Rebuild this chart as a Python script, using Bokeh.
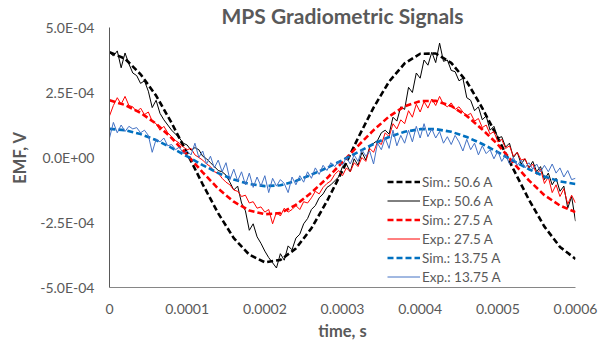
from bokeh.plotting import figure
from bokeh.models import FixedTicker, CustomJSTickFormatter, Legend, LegendItem, Range1d
from bokeh.embed import file_html
from bokeh.resources import INLINE

# ---------------- data (values in units of 1e-4) ----------------
SCALE = 1e-4
t_sim = [i * 2e-5 for i in range(31)]          # 0 .. 0.0006 s, sim sampling
t_exp = [i * 5e-6 for i in range(121)]         # 0 .. 0.0006 s, exp sampling

sim_506 = [4.05, 3.80, 3.20, 2.38, 1.33, 0.16, -1.03, -2.15, -3.10, -3.74, -4.03,
           -3.94, -3.50, -2.72, -1.68, -0.50, 0.75, 1.92, 2.92, 3.62, 3.99,
           4.00, 3.64, 2.92, 1.90, 0.75, -0.45, -1.62, -2.66, -3.44, -3.90]
sim_275 = [2.20, 2.02, 1.72, 1.30, 0.75, 0.10, -0.57, -1.20, -1.70, -2.04, -2.18,
           -2.14, -1.82, -1.35, -0.80, -0.18, 0.45, 1.05, 1.58, 1.97, 2.17,
           2.18, 1.98, 1.60, 1.08, 0.50, -0.20, -0.88, -1.45, -1.85, -2.10]
sim_1375 = [1.10, 1.05, 0.90, 0.67, 0.37, 0.04, -0.29, -0.60, -0.85, -1.02, -1.10,
            -1.07, -0.90, -0.66, -0.40, -0.10, 0.21, 0.52, 0.79, 0.99, 1.09,
            1.09, 0.99, 0.79, 0.52, 0.21, -0.13, -0.45, -0.73, -0.92, -1.02]

exp_506 = [4.05, 3.90, 4.10, 3.45, 4.02, 3.60, 3.25, 3.15, 2.85, 2.95,
           2.55, 1.92, 2.20, 1.70, 1.45, 1.25, 1.05, 0.90, 0.75, 0.55,
           0.48, 0.28, 0.38, 0.30, 0.05, -0.05, -0.20, -0.35, -0.50, -0.55,
           -0.68, -0.95, -1.25, -1.10, -1.75, -2.05, -2.80, -2.55, -3.05, -3.30,
           -3.60, -3.85, -4.05, -4.25, -3.70, -3.95, -3.40, -3.55, -3.10, -2.95,
           -2.55, -2.35, -2.00, -1.85, -1.55, -1.40, -1.15, -1.05, -0.90, -0.75,
           -0.35, -0.25, -0.55, -0.05, -0.30, 0.20, -0.10, 0.40, 0.55, 0.65,
           0.95, 1.05, 0.90, 1.55, 1.40, 1.95, 1.85, 2.70, 2.50, 3.25,
           3.05, 3.75, 3.55, 4.05, 3.65, 4.40, 3.70, 3.75, 3.35, 3.30,
           2.95, 3.05, 2.30, 2.20, 1.80, 1.95, 1.45, 1.60, 1.05, 1.20,
           0.75, 0.80, 0.40, 0.55, 0.00, 0.20, -0.25, -0.05, -0.40, -0.15,
           -0.55, -0.35, -0.85, -0.60, -1.05, -0.80, -1.30, -1.10, -1.95, -1.50,
           -2.45]
exp_275 = [1.60, 2.00, 2.30, 2.05, 2.35, 2.00, 1.95, 1.75, 1.90, 1.65,
           1.75, 1.40, 1.30, 1.05, 1.20, 0.95, 0.80, 0.65, 0.55, 0.40,
           0.30, 0.35, 0.10, 0.00, -0.10, -0.25, -0.35, -0.55, -0.60, -0.80,
           -0.95, -1.05, -1.25, -1.30, -1.50, -1.45, -1.75, -1.70, -1.95, -1.90,
           -2.10, -2.00, -2.55, -2.10, -2.25, -1.95, -2.10, -2.00, -1.85, -2.00,
           -1.70, -1.75, -1.55, -1.30, -1.40, -1.15, -1.00, -0.90, -0.65, -0.50,
           -0.70, -0.40, -0.55, -0.20, -0.35, 0.00, -0.15, 0.35, 0.20, 0.60,
           0.50, 0.95, 0.80, 1.30, 1.10, 1.45, 1.30, 1.80, 1.55, 2.05,
           1.75, 2.15, 1.90, 2.25, 2.00, 2.35, 2.05, 1.95, 2.10, 1.85,
           1.95, 1.75, 1.60, 1.70, 1.40, 1.50, 1.15, 1.25, 0.90, 1.00,
           0.60, 0.70, 0.35, 0.45, 0.05, 0.20, -0.10, -0.05, -0.40, -0.25,
           -0.65, -0.45, -1.00, -0.75, -1.35, -1.05, -1.50, -1.20, -1.80, -1.45,
           -1.75]
exp_1375 = [0.75, 1.35, 0.95, 1.25, 1.00, 1.20, 1.10, 1.15, 0.95, 1.05,
            0.85, 0.20, 0.70, 0.60, 0.75, 0.45, 0.50, 0.30, 0.40, 0.15,
            0.25, 0.10, 0.55, 0.00, 0.25, -0.25, 0.05, -0.40, -0.10, -0.55,
            -0.20, -0.85, -0.45, -0.90, -0.55, -1.05, -0.60, -1.15, -0.75, -1.10,
            -0.70, -1.35, -0.80, -1.10, -0.85, -1.00, -1.35, -0.75, -1.05, -0.70,
            -0.95, -0.55, -0.80, -0.40, -0.65, -0.30, -0.50, -0.20, -0.35, -0.15,
            -0.30, 0.00, -0.25, 0.10, -0.15, 0.30, 0.05, 0.25, -0.25, 0.55,
            0.30, 0.75, 0.35, 1.05, 0.45, 0.85, 0.55, 1.05, 0.60, 1.20,
            0.75, 1.30, 0.80, 1.10, 0.75, 1.00, 0.55, 0.80, 0.50, 0.85,
            0.60, 0.25, 0.70, 0.30, 0.55, 0.10, 0.45, 0.15, 0.30, -0.05,
            0.25, -0.15, 0.10, -0.25, 0.00, -0.30, -0.10, -0.40, -0.20, -0.45,
            -0.25, -0.55, -0.30, -0.55, -0.25, -0.60, -0.40, -0.75, -0.50, -0.85,
            -0.80]

legend_labels = ["Sim.: 50.6 A", "Exp.: 50.6 A", "Sim.: 27.5 A",
                 "Exp.: 27.5 A", "Sim.: 13.75 A", "Exp.: 13.75 A"]
x_ticks = [0, 0.0001, 0.0002, 0.0003, 0.0004, 0.0005, 0.0006]
y_ticks = [-5e-4, -2.5e-4, 0, 2.5e-4, 5e-4]
title_text = "MPS Gradiometric Signals"

def sc(vals):
    return [v * SCALE for v in vals]

# ---------------- figure ----------------
FONT = "Lato"
GREY = "#595959"

p = figure(width=608, height=347, output_backend="svg", toolbar_location=None,
           title=title_text,
           x_range=Range1d(0, 0.0006), y_range=Range1d(-5e-4, 5e-4),
           min_border_left=109, min_border_right=33, min_border_top=27,
           min_border_bottom=60)
p.outline_line_color = None
p.xgrid.visible = False
p.ygrid.visible = False

p.title.text_font = FONT
p.title.text_font_size = "21px"
p.title.text_font_style = "bold"
p.title.text_color = GREY
p.title.align = "center"
p.title.offset = -24
p.title.standoff = 0
p.title.text_line_height = 0.9

series = [
    (t_sim, sim_506, "#000000", 2.6, "6 3"),
    (t_exp, exp_506, "#000000", 1.0, "solid"),
    (t_sim, sim_275, "#FF0000", 2.6, "6 3"),
    (t_exp, exp_275, "#FF0000", 1.0, "solid"),
    (t_sim, sim_1375, "#0070C0", 2.6, "6 3"),
    (t_exp, exp_1375, "#4472C4", 1.0, "solid"),
]
items = []
for (tx, vals, col, lw, dash), lab in zip(series, legend_labels):
    r = p.line(tx, sc(vals), line_color=col, line_width=lw, line_dash=dash)
    items.append(LegendItem(label=lab, renderers=[r]))

legend = Legend(items=items, location=(278, 1), padding=0, margin=0, spacing=0,
                glyph_width=33, glyph_height=19, label_height=19,
                label_standoff=2, label_text_font=FONT,
                label_text_font_size="13.5px", label_text_color=GREY,
                background_fill_alpha=0, border_line_color=None)
p.add_layout(legend)

# axes
p.xaxis.ticker = FixedTicker(ticks=x_ticks)
p.xaxis.formatter = CustomJSTickFormatter(code="""
    if (Math.abs(tick) < 1e-12) return '0';
    return tick.toFixed(4);
""")
p.yaxis.ticker = FixedTicker(ticks=y_ticks)
p.yaxis.formatter = CustomJSTickFormatter(code="""
    const v = Math.abs(tick) < 1e-12 ? 0 : tick;
    const parts = v.toExponential(1).split('e');
    const n = parseInt(parts[1]);
    return parts[0] + 'E' + (n < 0 ? '-' : '+') + String(Math.abs(n)).padStart(2, '0');
""")
for ax in (p.xaxis[0], p.yaxis[0]):
    ax.major_tick_out = 0
    ax.major_tick_in = 0
    ax.minor_tick_out = 0
    ax.minor_tick_in = 0
    ax.major_label_text_font = FONT
    ax.major_label_text_font_size = "14px"
    ax.major_label_text_color = GREY
    ax.axis_label_text_font = FONT
    ax.axis_label_text_font_style = "bold"
    ax.axis_label_text_font_size = "16.5px"
    ax.axis_label_text_color = GREY

p.xaxis.axis_label = "time, s"
p.yaxis.axis_label = "EMF, V"
p.xaxis.axis_line_color = "#868686"
p.yaxis.axis_line_color = "#595959"
p.xaxis.major_label_standoff = 16
p.xaxis.axis_label_standoff = 4
p.yaxis.major_label_standoff = 15
p.yaxis.axis_label_standoff = 7

open("out.html", "w").write(file_html(p, INLINE))
